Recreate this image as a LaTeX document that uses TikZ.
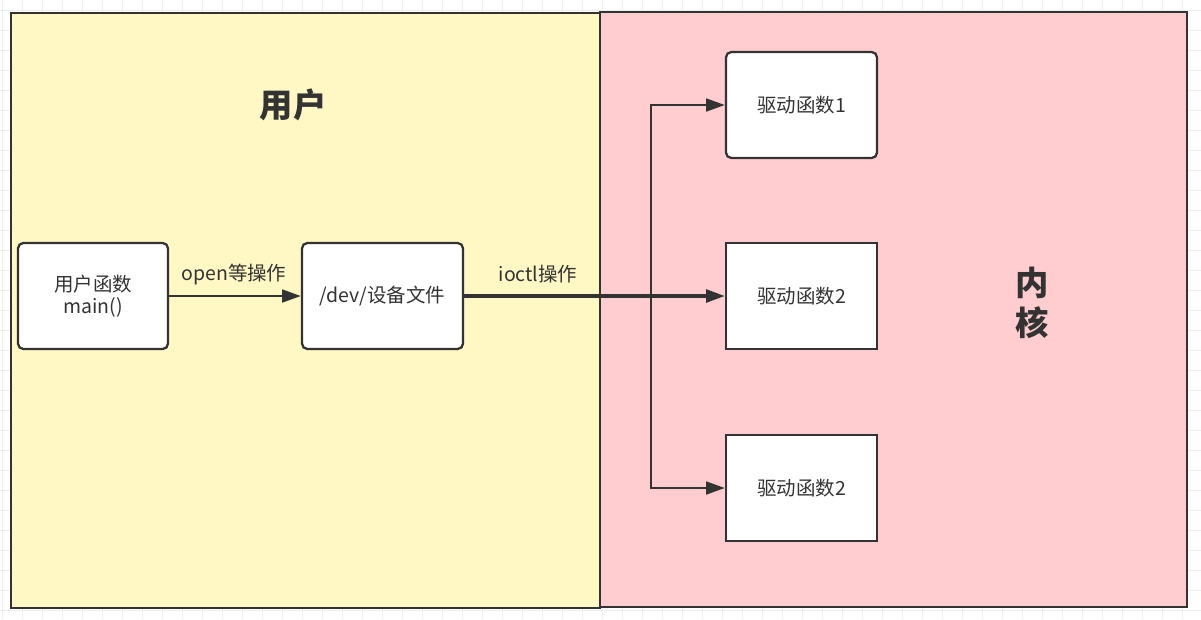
\documentclass[tikz,border=0pt]{standalone}
\usepackage{fontspec}
\setmainfont{Noto Sans CJK SC}
\usetikzlibrary{arrows.meta}
\definecolor{ink}{HTML}{333333}
\definecolor{userfill}{HTML}{FFF7C4}
\definecolor{kernfill}{HTML}{FFCCD0}
\definecolor{gridc}{HTML}{EEEEEE}
\tikzset{
  area/.style={draw=ink, line width=1.9pt},
  fbox/.style={draw=ink, fill=white, line width=1.7pt, text=ink, align=center,
    font=\fontsize{14.6pt}{16.5pt}\selectfont, inner sep=0pt},
  rbox/.style={fbox, rounded corners=4pt},
  conn/.style={draw=ink, line width=1.9pt, -{Triangle[length=14pt,width=9.5pt]}},
  elabel/.style={text=ink, font=\fontsize{14.6pt}{16pt}\selectfont, inner sep=0pt},
  biglabel/.style={text=ink, font=\bfseries\fontsize{25pt}{30pt}\selectfont, align=center, inner sep=0pt},
}
\begin{document}
\begin{tikzpicture}[x=0.75pt,y=-0.75pt]
\useasboundingbox (0,0) rectangle (1201,619);
\fill[white] (0,0) rectangle (1201,619);
% faint grid
\foreach \gx in {0,20,...,1200} { \draw[gridc, line width=0.5pt] (\gx+2,0) -- (\gx+2,619); }
\foreach \gy in {0,20,...,619} { \draw[gridc, line width=0.5pt] (0,\gy+10) -- (1201,\gy+10); }
% containers
\draw[area, fill=userfill] (11,13) rectangle (600,608);
\draw[area, fill=kernfill] (600,12) rectangle (1187,607);
\node[biglabel] (user) at (293,105) {用户};
\node[biglabel] (kern) at (1032,303) {内\\核};
% boxes
\node[rbox, minimum width=112.5pt, minimum height=79.5pt] (main) at (93,296) {用户函数\\main()};
\node[rbox, minimum width=120.75pt, minimum height=79.5pt] (dev) at (382.5,296) {/dev/设备文件};
\node[rbox, minimum width=113.25pt, minimum height=79.5pt] (d1) at (801.5,105) {驱动函数1};
\node[fbox, minimum width=113.25pt, minimum height=79.5pt] (d2) at (801.5,296) {驱动函数2};
\node[fbox, minimum width=113.25pt, minimum height=79.5pt] (d3) at (801.5,488) {驱动函数2};
% connectors
\draw[conn] (main.east) -- (dev.west);
\node[elabel] (lopen) at (234,274) {open等操作};
\coordinate (tm) at (651,296);
\draw[conn, line width=2.5pt] (dev.east) -- (d2.west);
\node[elabel] (lioctl) at (538,274) {ioctl操作};
\draw[conn] (tm) |- (d1.west);
\draw[conn] (tm) |- (d3.west);
\end{tikzpicture}
\end{document}
